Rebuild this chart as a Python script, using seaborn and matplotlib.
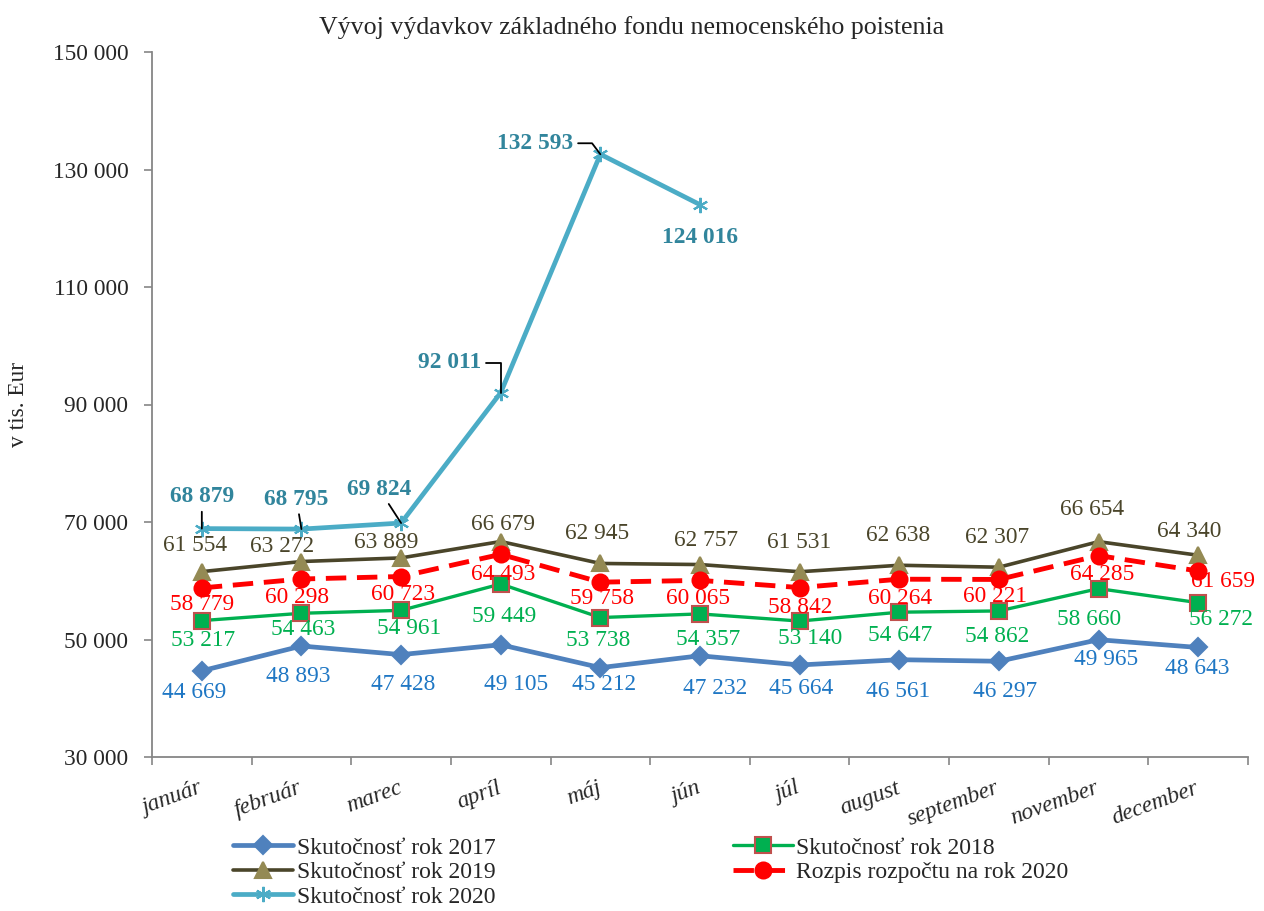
import matplotlib
matplotlib.use("Agg")
import matplotlib.pyplot as plt
from matplotlib.ticker import FuncFormatter
import seaborn as sns
import pandas as pd

# --- data (v tis. Eur) ---
months = ["január", "február", "marec", "apríl", "máj", "jún", "júl",
          "august", "september", "november", "december"]
skut_2017 = [44669, 48893, 47428, 49105, 45212, 47232, 45664, 46561, 46297, 49965, 48643]
skut_2018 = [53217, 54463, 54961, 59449, 53738, 54357, 53140, 54647, 54862, 58660, 56272]
skut_2019 = [61554, 63272, 63889, 66679, 62945, 62757, 61531, 62638, 62307, 66654, 64340]
rozpis_2020 = [58779, 60298, 60723, 64493, 59758, 60065, 58842, 60264, 60221, 64285, 61659]
skut_2020 = [68879, 68795, 69824, 92011, 132593, 124016]
y_ticks = [30000, 50000, 70000, 90000, 110000, 130000, 150000]

# label offsets in pixels (dx, dy), hand-placed like in the original
off_2017 = [(-8, -22), (-3, -30), (2, -30), (15, -40), (4, -17), (15, -33),
            (1, -24), (-1, -32), (6, -30), (8, -20), (-1, -21)]
off_2018 = [(1, -20), (2, -16), (8, -18), (3, -33), (-2, -23), (8, -26),
            (10, -17), (1, -23), (-2, -26), (-9, -31), (23, -17)]
off_2019 = [(-7, 26), (-19, 15), (-15, 15), (2, 17), (-3, 30), (6, 24),
            (-1, 29), (-1, 30), (-2, 30), (-6, 32), (-9, 24)]
off_rozpis = [(0, -17), (-4, -19), (2, -18), (2, -20), (2, -16), (-2, -18),
              (1, -20), (1, -19), (-4, -17), (4, -19), (25, -10)]
off_2020 = [(0, 32), (-5, 30), (-22, 34), (-51, 30), (-65, 11), (0, -33)]
leader_2020 = ["arc3", "arc3", "arc3",
               "angle,angleA=0,angleB=90,rad=0",
               "angle,angleA=0,angleB=127,rad=0", None]

sns.set_style("ticks")
plt.rcParams["font.family"] = ["Liberation Serif", "DejaVu Serif"]

FS = 16.8
SPINE = "#868686"


def fmt(v):
    return f"{v:,.0f}".replace(",", " ")


fig = plt.figure(figsize=(12.64, 9.11), dpi=100)
ax = fig.add_axes([152 / 1264, 1 - 757 / 911, (1248 - 152) / 1264, (757 - 52) / 911])

series = [
    dict(name="Skutočnosť rok 2017", values=skut_2017, color="#4F81BD", marker="D", ms=9,
         mfc="#4F81BD", mec="#4F81BD", lw=3.4, ls="-", tcolor="#1F77C4", offs=off_2017, bold=False),
    dict(name="Skutočnosť rok 2018", values=skut_2018, color="#00B050", marker="s", ms=12,
         mfc="#00B050", mec="#C0504D", lw=2.4, ls="-", tcolor="#00B050", offs=off_2018, bold=False),
    dict(name="Skutočnosť rok 2019", values=skut_2019, color="#4A452A", marker="^", ms=12,
         mfc="#948A54", mec="#948A54", lw=2.6, ls="-", tcolor="#4A452A", offs=off_2019, bold=False),
    dict(name="Rozpis rozpočtu na rok 2020", values=rozpis_2020, color="#FF0000", marker="o", ms=11.5,
         mfc="#FF0000", mec="#FF0000", lw=3.5, ls=(0, (4.2, 2.2)), tcolor="#FF0000", offs=off_rozpis, bold=False),
    dict(name="Skutočnosť rok 2020", values=skut_2020, color="#4BACC6", marker=(6, 2, 0), ms=11,
         mfc="#4BACC6", mec="#4BACC6", lw=3.4, ls="-", tcolor="#31859C", offs=off_2020, bold=True),
]

for z, s in enumerate(series):
    n = len(s["values"])
    df = pd.DataFrame({"pos": list(range(n)), "value": s["values"]})
    sns.lineplot(data=df, x="pos", y="value", ax=ax, color=s["color"], marker=s["marker"],
                 markersize=s["ms"], markerfacecolor=s["mfc"], markeredgecolor=s["mec"],
                 markeredgewidth=1.5, linewidth=s["lw"], linestyle=s["ls"],
                 label=s["name"], zorder=3 + z)
    for i, v in enumerate(s["values"]):
        kw = {}
        if s["name"] == "Skutočnosť rok 2020" and leader_2020[i] is not None:
            kw["arrowprops"] = dict(arrowstyle="-", color="black", lw=1.3, shrinkA=1, shrinkB=0,
                                    connectionstyle=leader_2020[i])
        ax.annotate(fmt(v), xy=(i, v), xytext=s["offs"][i], textcoords="offset pixels",
                    ha="center", va="center", color=s["tcolor"], fontsize=FS,
                    fontweight="bold" if s["bold"] else "normal", zorder=10, **kw)

ax.set_xlim(-0.5, len(months) - 0.5)
ax.set_ylim(y_ticks[0], y_ticks[-1])
ax.set_yticks(y_ticks)
ax.yaxis.set_major_formatter(FuncFormatter(lambda v, p: fmt(v)))

ax.set_xticks(range(len(months)))
ax.set_xticklabels(months, rotation=20, ha="right", va="center", rotation_mode="anchor",
                   fontstyle="italic", fontsize=FS)
ax.set_xticks([i - 0.5 for i in range(len(months) + 1)], minor=True)
ax.tick_params(axis="x", which="major", length=0, pad=22)
ax.tick_params(axis="x", which="minor", length=6, width=1.2, color=SPINE, direction="out")
ax.tick_params(axis="y", which="major", length=6, width=1.2, color=SPINE, pad=11, labelsize=FS)

ax.set_xlabel("")
ax.set_ylabel("v tis. Eur", fontsize=FS, va="center")
ax.yaxis.set_label_coords(-(152 - 18) / 1096, 0.5)

sns.despine(ax=ax)
for side in ("left", "bottom"):
    ax.spines[side].set_color(SPINE)
    ax.spines[side].set_linewidth(1.3)

fig.suptitle("Vývoj výdavkov základného fondu nemocenského poistenia",
             y=1 - 28 / 911, va="center", fontsize=18.6)

handles, labels = ax.get_legend_handles_labels()
if ax.get_legend() is not None:
    ax.get_legend().remove()
order = [0, 2, 4, 1, 3]
fig.legend([handles[i] for i in order], [labels[i] for i in order], ncol=2,
           loc="upper left", bbox_to_anchor=(233 / 1264, 1 - 837 / 911),
           frameon=False, fontsize=17, handlelength=2.55, handletextpad=0.15,
           columnspacing=10.05, labelspacing=0.13, borderpad=0, borderaxespad=0)

fig.savefig("out.png", dpi=100)
